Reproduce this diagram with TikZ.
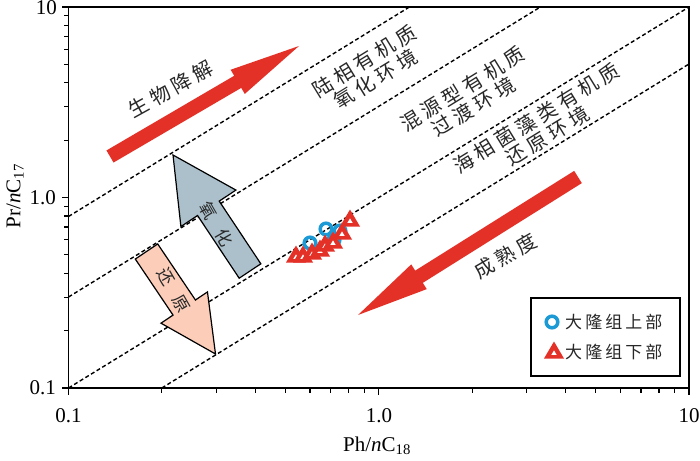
\documentclass[tikz,border=0pt]{standalone}
\usepackage{fontspec}
\setmainfont{Liberation Serif}
\newfontfamily\cjk{Noto Sans CJK SC}[LetterSpace=22]
\newfontfamily\cjkarr{Noto Sans CJK SC}
\newfontfamily\cjkleg{Noto Sans CJK SC}[LetterSpace=18]
\usetikzlibrary{calc}
\definecolor{arrred}{RGB}{228,49,40}
\definecolor{ptblue}{RGB}{28,154,214}
\definecolor{oxgrey}{RGB}{171,192,203}
\definecolor{redpink}{RGB}{252,205,185}
\definecolor{txt}{RGB}{40,40,40}
\newcommand\blockarrow[6]{%
  \coordinate (ba-b) at ($(#3)!#6!(#2)$);
  \path[#1] ($(#2)!#4!90:(#3)$) -- ($(ba-b)!#4!-90:(#2)$) -- ($(ba-b)!#5!-90:(#2)$) -- (#3)
    -- ($(ba-b)!#5!90:(#2)$) -- ($(ba-b)!#4!90:(#2)$) -- ($(#2)!#4!-90:(#3)$) -- cycle;
}
\tikzset{
  dashline/.style={dash pattern=on 4pt off 2.6pt, line width=1.4pt},
  tickmark/.style={line width=1.2pt},
  cn/.style={font=\fontsize{20pt}{21pt}\selectfont\cjk, text=txt, inner sep=0pt},
  cnsmall/.style={font=\fontsize{17pt}{18pt}\selectfont\cjkarr, text=txt, inner sep=0pt},
  numlab/.style={font=\fontsize{21pt}{21pt}\selectfont, inner sep=0pt},
  upmark/.pic={\draw[ptblue, line width=3.5pt] (0,0) circle (5.8pt);},
  lowmark/.pic={\fill[arrred] (0,-10.5) -- (10,6.5) -- (-10,6.5) -- cycle;
                \fill[white] (0,-1.6) -- (2.6,2.8) -- (-2.6,2.8) -- cycle;}
}
\begin{document}
\begin{tikzpicture}[x=1pt,y=-1pt]
\useasboundingbox (0,0) rectangle (700,460);
\fill[white] (0,0) rectangle (700,460);
% dashed boundary lines
\coordinate (la1) at (68.5,216.5); \coordinate (la2) at (409.4,7);
\coordinate (lb1) at (68.5,297);   \coordinate (lb2) at (540.4,7);
\coordinate (lc1) at (68.5,388);   \coordinate (lc2) at (689,7);
\coordinate (ld1) at (161.8,388);  \coordinate (ld2) at (689,64);
\draw[dashline] (la1) -- (la2);
\draw[dashline] (lb1) -- (lb2);
\draw[dashline] (lc1) -- (lc2);
\draw[dashline] (ld1) -- (ld2);
% block arrows
\coordinate (bioT) at (110,156.5); \coordinate (bioP) at (299,46);
\blockarrow{fill=arrred}{bioT}{bioP}{7pt}{14pt}{71pt}
\coordinate (matT) at (578,177); \coordinate (matP) at (358,315);
\blockarrow{fill=arrred}{matT}{matP}{7.2pt}{14.6pt}{72pt}
\coordinate (oxT) at (250,271); \coordinate (oxP) at (173,155);
\blockarrow{fill=oxgrey, draw=black, line width=1.2pt, line join=miter}{oxT}{oxP}{13pt}{33pt}{64pt}
\coordinate (reT) at (146.5,251.5); \coordinate (reP) at (215.5,354);
\blockarrow{fill=redpink, draw=black, line width=1.2pt, line join=miter}{reT}{reP}{13.5pt}{28pt}{56pt}
% labels
\node[cn, rotate=29] (bio) at (171,89) {生物降解};
\node[cn, rotate=30] (mat) at (505,256) {成熟度};
\node[cn, rotate=31.6, align=center] (env1) at (370,70) {陆相有机质\\氧化环境};
\node[cn, rotate=31.6, align=center] (env2) at (468,98) {混源型有机质\\过渡环境};
\node[cn, rotate=31.6, align=center] (env3) at (542,127) {海相菌藻类有机质\\还原环境};
\node[cnsmall, rotate=-60] (ox) at (216.7,224) {氧\hspace{15pt}化};
\node[cnsmall, rotate=-60] (re) at (174,290) {还\hspace{13.5pt}原};
% data
\foreach \p [count=\k] in {(310,243),(334,240),(326,229),(340,231)}
  \pic (c\k) at \p {upmark};
\foreach \p [count=\k] in {(296,256),(303,256),(312,253),(320,250),(325,245),(333,242),(342,233),(350,220)}
  \pic (t\k) at \p {lowmark};
% frame and ticks
\draw[line width=1.5pt] (68.5,7) rectangle (689,388);
\foreach \d in {0,1} {
  \foreach \i in {2,...,9} {
    \draw[tickmark] ({68.5+310.25*\d+310.25*log10(\i)},388) -- ++(0,5);
    \draw[tickmark] (68.5,{388-190.5*\d-190.5*log10(\i)}) -- ++(-5,0);
  }
}
\foreach \d in {0,1,2} {
  \draw[tickmark] ({68.5+310.25*\d},388) -- ++(0,7);
  \draw[tickmark] (68.5,{388-190.5*\d}) -- ++(-7,0);
}
\node[numlab, anchor=east] (y10) at (57,8) {10};
\node[numlab, anchor=east] (y1) at (56,198) {1.0};
\node[numlab, anchor=east] (y01) at (56,388) {0.1};
\node[numlab] (x01) at (68.5,416) {0.1};
\node[numlab] (x1) at (379,416) {1.0};
\node[numlab] (x10) at (689,416) {10};
\node[numlab, rotate=90] (ylab) at (15,196) {Pr/\textit{n}C\textsubscript{17}};
\node[numlab] (xlab) at (377,446) {Ph/\textit{n}C\textsubscript{18}};
% legend
\node[draw, line width=1.2pt, minimum width=149pt, minimum height=78pt, inner sep=0pt] (leg) at (605.5,337) {};
\pic (lc) at (552,322) {upmark};
\pic (lt) at (554,352) {lowmark};
\node[font=\fontsize{17pt}{17pt}\selectfont\cjkleg, text=txt, anchor=west, inner sep=0pt] (legup) at (565,322) {大隆组上部};
\node[font=\fontsize{17pt}{17pt}\selectfont\cjkleg, text=txt, anchor=west, inner sep=0pt] (leglo) at (565,352) {大隆组下部};
\end{tikzpicture}
\end{document}
